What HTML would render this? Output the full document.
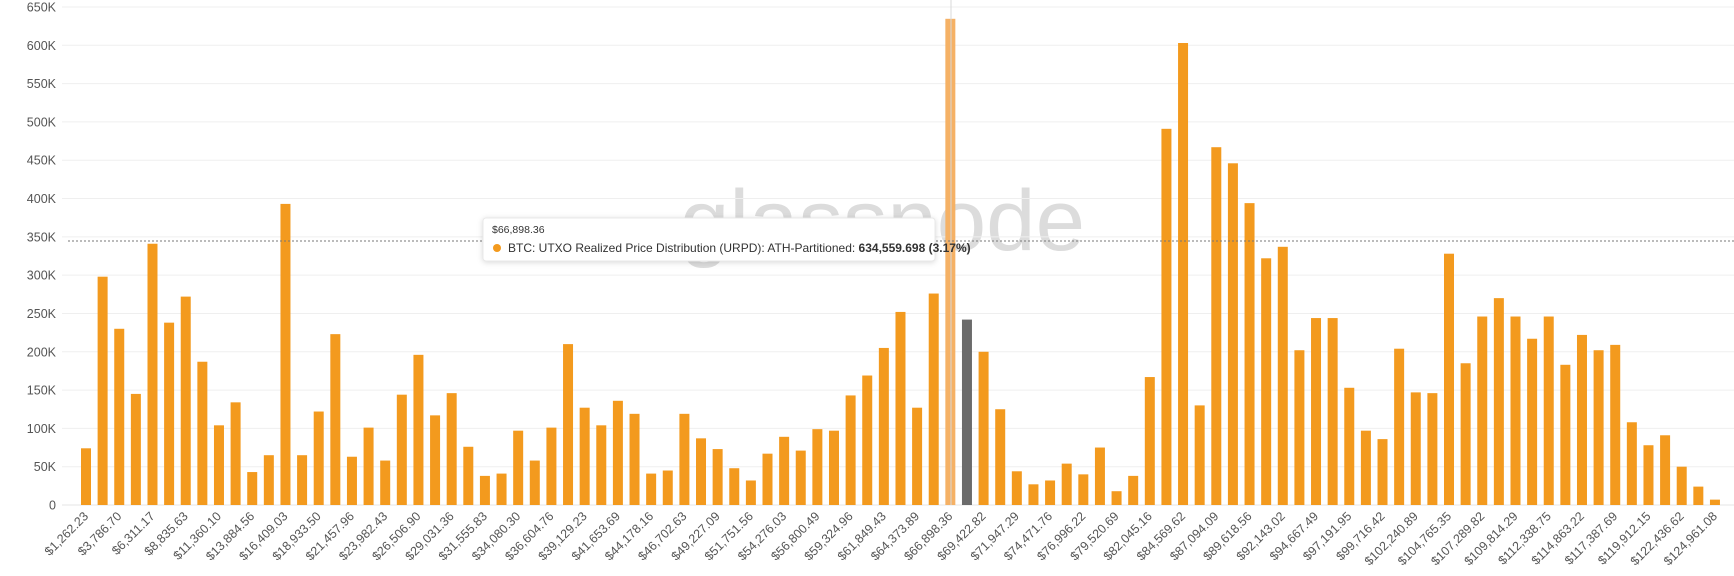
<!DOCTYPE html>
<html><head><meta charset="utf-8">
<style>
html,body{margin:0;padding:0;background:#fff;}
svg{display:block;font-family:"Liberation Sans",sans-serif;}
</style></head>
<body>
<svg id="c" width="1734" height="576" viewBox="0 0 1734 576" xmlns="http://www.w3.org/2000/svg">
<text x="680" y="250" font-size="86" fill="#dcdcdc" font-family="Liberation Sans, sans-serif" textLength="405" lengthAdjust="spacingAndGlyphs">glassnode</text>
<g id="grid"></g>
<g id="bars"></g>
<line x1="951" y1="0" x2="951" y2="505" stroke="#d8d8d8" stroke-width="1"/>
<line x1="68" y1="241" x2="1734" y2="241" stroke="#777" stroke-width="1" stroke-dasharray="2,2"/>
<g id="labels"></g>
<g>
<rect x="483" y="218" width="452" height="43" rx="3" fill="#fff" stroke="#e8e8e8" style="filter:drop-shadow(0 1px 3px rgba(0,0,0,0.15))"/>
<text x="492" y="233" font-size="10.5" fill="#333">$66,898.36</text>
<circle cx="497" cy="248" r="4" fill="#f39a1e"/>
<text x="508" y="252" font-size="12" fill="#333">BTC: UTXO Realized Price Distribution (URPD): ATH-Partitioned: <tspan font-weight="bold">634,559.698 (3.17%)</tspan></text>
</g>
</svg>
<script>
(function(){
var v=[74,298,230,145,341,238,272,187,104,134,43,65,393,65,122,223,63,101,58,144,196,117,146,76,38,41,97,58,101,210,127,104,136,119,41,45,119,87,73,48,32,67,89,71,99,97,143,169,205,252,127,276,634.6,242,200,125,44,27,32,54,40,75,18,38,167,491,603,130,467,446,394,322,337,202,244,244,153,97,86,204,147,146,328,185,246,270,246,217,246,183,222,202,209,108,78,91,50,24,7];
var L=["1,262.23","3,786.70","6,311.17","8,835.63","11,360.10","13,884.56","16,409.03","18,933.50","21,457.96","23,982.43","26,506.90","29,031.36","31,555.83","34,080.30","36,604.76","39,129.23","41,653.69","44,178.16","46,702.63","49,227.09","51,751.56","54,276.03","56,800.49","59,324.96","61,849.43","64,373.89","66,898.36","69,422.82","71,947.29","74,471.76","76,996.22","79,520.69","82,045.16","84,569.62","87,094.09","89,618.56","92,143.02","94,667.49","97,191.95","99,716.42","102,240.89","104,765.35","107,289.82","109,814.29","112,338.75","114,863.22","117,387.69","119,912.15","122,436.62","124,961.08"];
var NS="http://www.w3.org/2000/svg";
function el(t,a,p,txt){var e=document.createElementNS(NS,t);for(var k in a)e.setAttribute(k,a[k]);if(txt)e.textContent=txt;p.appendChild(e);return e;}
var g=document.getElementById('grid'),b=document.getElementById('bars'),l=document.getElementById('labels');
function Y(k){return 505-k/650*498;}
for(var i=0;i<=13;i++){var y=Y(i*50);
 el('line',{x1:62,x2:1734,y1:y,y2:y,stroke:i==0?'#e6e6e6':'#efefef','stroke-width':1},g);
 el('text',{x:56,y:y+4.5,'font-size':12.5,fill:'#555','text-anchor':'end'},g,i==0?'0':(i*50)+'K');}
for(var i=0;i<v.length;i++){var cx=86+i*16.622;var ty=Y(v[i]);
 var col=i==52?'#f5b165':(i==53?'#6b6b6b':'#f39a1e');
 el('rect',{x:cx-5,y:ty,width:10,height:505-ty,fill:col},b);
 if(i%2==0){
  el('text',{x:cx+3,y:517,'font-size':12.5,fill:'#555','text-anchor':'end',transform:'rotate(-45 '+(cx+3)+' 517)'},l,'$'+L[i/2]);}
}
})();
</script>
</body></html>
